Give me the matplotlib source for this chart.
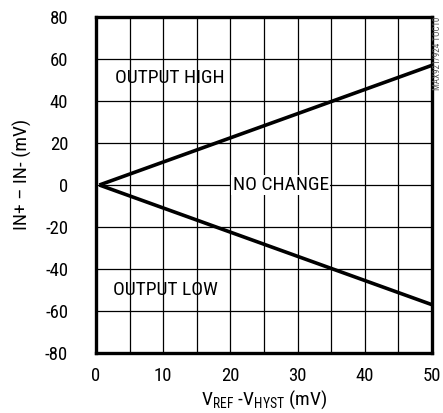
import numpy as np
import matplotlib.pyplot as plt

plt.rcParams['font.family'] = ['Roboto Condensed', 'DejaVu Sans']
plt.rcParams['axes.unicode_minus'] = False

# threshold lines
x_pts = [0.5, 50]
high_pts = [0, 57]
low_pts = [0, -57]

x_ticks = [0, 10, 20, 30, 40, 50]
y_ticks = [-80, -60, -40, -20, 0, 20, 40, 60, 80]

fig = plt.figure(figsize=(4.43, 4.13), dpi=100)
ax = fig.add_axes([96/443, 1 - 353/413, 336/443, 336/413])

ax.plot(x_pts, high_pts, color='black', lw=2.6, zorder=3, solid_capstyle='butt')
ax.plot(x_pts, low_pts, color='black', lw=2.6, zorder=3, solid_capstyle='butt')

ax.set_xlim(0, 50)
ax.set_ylim(-80, 80)
ax.set_xticks(x_ticks)
ax.set_yticks(y_ticks)
ax.set_xticks(np.arange(0, 51, 5), minor=True)
ax.grid(True, which='both', color='black', lw=0.9)
ax.tick_params(which='both', length=0, labelsize=13.5)
ax.tick_params(axis='x', pad=10)
ax.tick_params(axis='y', pad=20)
for s in ax.spines.values():
    s.set_linewidth(2.4)

ax.text(2.8, 51, 'OUTPUT HIGH', fontsize=14, va='center', ha='left', zorder=4)
ax.text(2.6, -50, 'OUTPUT LOW', fontsize=14, va='center', ha='left', zorder=4)
ax.text(27.5, 0, 'NO CHANGE', fontsize=14, va='center', ha='center', zorder=4,
        bbox=dict(facecolor='white', edgecolor='none', pad=1))

ax.set_xlabel('V$_{\\mathregular{REF}}$ -V$_{\\mathregular{HYST}}$ (mV)', fontsize=14)
ax.xaxis.set_label_coords(0.5, -0.105)
ax.set_ylabel('IN+ \u2013 IN- (mV)', fontsize=14)
ax.yaxis.set_label_coords(-0.19, 0.53)

fig.text(437/443, 1 - 17/413, 'MAX921/924 TOC10', rotation=90, fontsize=6.5,
         color='#555555', ha='center', va='top')

fig.savefig('out.png', dpi=100)
